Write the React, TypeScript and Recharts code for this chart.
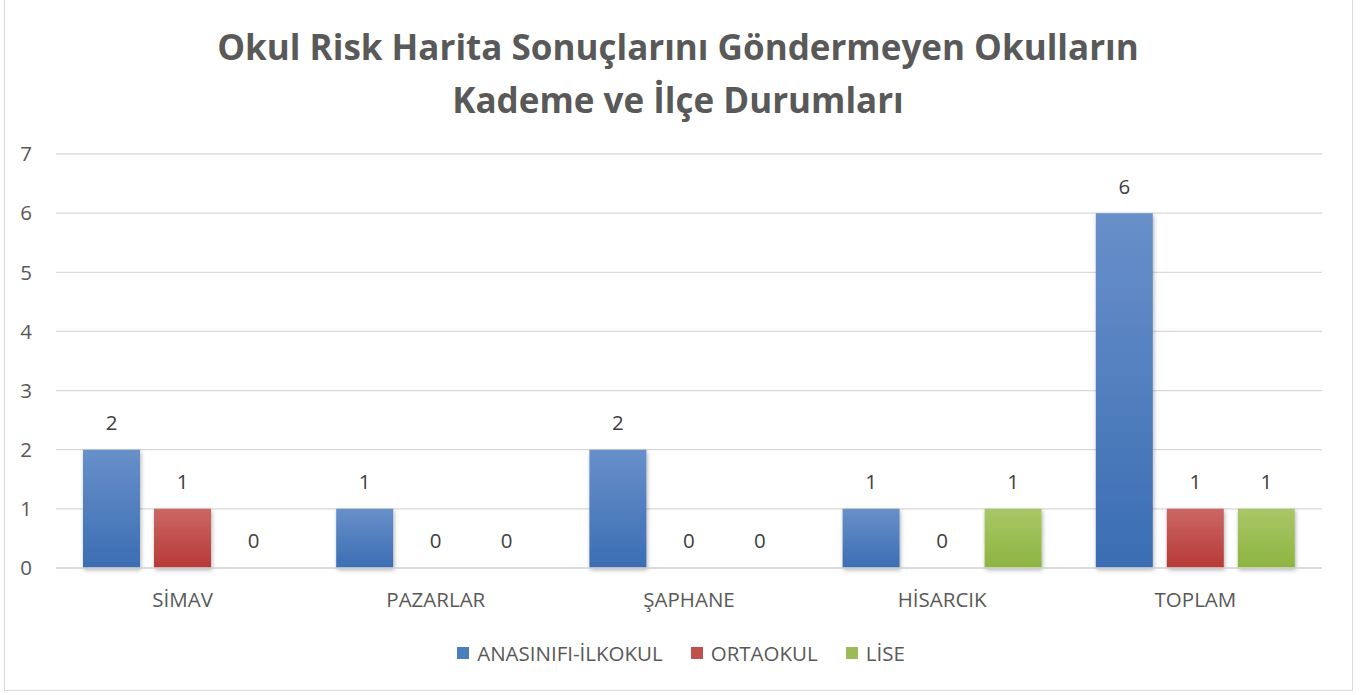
import * as React from 'react';
import { BarChart, Bar, XAxis, YAxis, CartesianGrid, LabelList } from 'recharts';

const districts = ['SİMAV', 'PAZARLAR', 'ŞAPHANE', 'HİSARCIK', 'TOPLAM'];
const anasinifiIlkokul = [2, 1, 2, 1, 6];
const ortaokul = [1, 0, 0, 0, 1];
const lise = [0, 0, 0, 1, 1];
const yTicks = [0, 1, 2, 3, 4, 5, 6, 7];

const seriesDefs = [
  { key: 'ilk', name: 'ANASINIFI-İLKOKUL', top: '#6890c9', bottom: '#3b6db3', swatch: '#4a7ebf' },
  { key: 'orta', name: 'ORTAOKUL', top: '#cb6764', bottom: '#b63a37', swatch: '#c0504d' },
  { key: 'lise', name: 'LİSE', top: '#a9c768', bottom: '#8db440', swatch: '#9bbb59' },
];

const data = districts.map((d, i) => ({
  name: d,
  ilk: anasinifiIlkokul[i],
  orta: ortaokul[i],
  lise: lise[i],
}));

const FONT = '"Open Sans", Lato, sans-serif';
const FS = 20.5;

function ValueLabel(props: any) {
  const { x, y, width, value } = props;
  return (
    <text x={x + width / 2} y={y - 25} textAnchor="middle" dominantBaseline="middle"
      fill="#404040" fontSize={FS} fontFamily={FONT}>
      {value}
    </text>
  );
}

// zero values still get their label, like the reference
const tinyForZero = (v: any) => (Number(v) === 0 ? 0.01 : 0);

export default function App() {
  return (
    <div style={{ position: 'absolute', left: 0, top: 0, width: 1368, height: 695, background: '#fff', fontFamily: FONT }}>
      <div style={{ position: 'absolute', left: 4, top: -2, width: 1347, height: 691, border: '1px solid #d9d9d9' }} />
      <div style={{ position: 'absolute', left: 0, top: 20, width: 1356, textAlign: 'center', color: '#595959',
        fontWeight: 700, fontSize: 35, lineHeight: '53px' }}>
        Okul Risk Harita Sonuçlarını Göndermeyen Okulların<br />Kademe ve İlçe Durumları
      </div>
      <div style={{ position: 'absolute', left: 0, top: 0 }}>
        <BarChart width={1368} height={695} data={data}
          margin={{ top: 154, right: 46, bottom: 97, left: 0 }}
          barSize={57} barGap={14} barCategoryGap={27}>
          <defs>
            {seriesDefs.map(s => (
              <linearGradient key={s.key} id={`g-${s.key}`} x1="0" y1="0" x2="0" y2="1">
                <stop offset="0%" stopColor={s.top} />
                <stop offset="100%" stopColor={s.bottom} />
              </linearGradient>
            ))}
            <filter id="shadow" x="-20%" y="-10%" width="140%" height="130%">
              <feDropShadow dx="1" dy="2" stdDeviation="2" floodColor="#000" floodOpacity="0.3" />
            </filter>
          </defs>
          <CartesianGrid vertical={false} stroke="#d9d9d9" strokeWidth={1.3} />
          <XAxis dataKey="name" axisLine={{ stroke: '#d9d9d9', strokeWidth: 1.3 }} tickLine={false}
            tick={{ fill: '#595959', fontSize: FS, fontFamily: FONT }} tickMargin={18} />
          <YAxis domain={[0, 7]} ticks={yTicks} width={56} axisLine={false} tickLine={false} tickSize={0}
            tick={{ fill: '#595959', fontSize: FS, fontFamily: FONT }} tickMargin={24} interval={0} />
          {seriesDefs.map(s => (
            <Bar key={s.key} dataKey={s.key} name={s.name} fill={`url(#g-${s.key})`}
              minPointSize={tinyForZero} filter="url(#shadow)" isAnimationActive={false}>
              <LabelList dataKey={s.key} content={ValueLabel} />
            </Bar>
          ))}
        </BarChart>
      </div>
      <div style={{ position: 'absolute', left: 0, top: 639, width: 1362, display: 'flex', justifyContent: 'center',
        gap: 28, color: '#595959', fontSize: FS }}>
        {seriesDefs.map(s => (
          <div key={s.key} style={{ display: 'flex', alignItems: 'center', gap: 8 }}>
            <span style={{ width: 12, height: 12, background: s.swatch, display: 'inline-block' }} />
            <span>{s.name}</span>
          </div>
        ))}
      </div>
    </div>
  );
}
